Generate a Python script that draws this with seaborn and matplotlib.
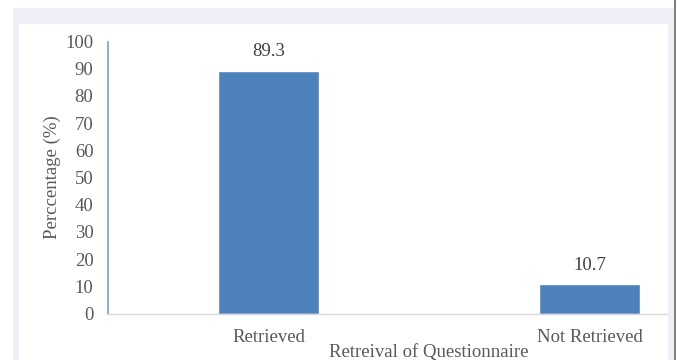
import matplotlib
matplotlib.use("Agg")
import matplotlib.pyplot as plt
from matplotlib.patches import Rectangle
import seaborn as sns
import pandas as pd

categories = ["Retrieved", "Not Retrieved"]
percentages = [89.3, 10.7]
y_ticks = list(range(0, 101, 10))

sns.set_theme(style="white")
plt.rcParams["font.family"] = ["Liberation Serif", "DejaVu Serif"]

W, H = 677, 360
FS = 13.5
fig = plt.figure(figsize=(W / 100, H / 100), dpi=100)
fig.patch.set_facecolor("white")

# page frame: lavender band around a white panel
frame = "#eff0f7"
fig.patches.append(Rectangle((13 / W, 0), (674 - 13) / W, (H - 8) / H,
                             transform=fig.transFigure, facecolor=frame,
                             edgecolor="none", zorder=-3))
fig.patches.append(Rectangle((19 / W, 0), (668 - 19) / W, (H - 24) / H,
                             transform=fig.transFigure, facecolor="white",
                             edgecolor="none", zorder=-2))

ax = fig.add_axes([108 / W, (H - 313.5) / H, (750 - 108) / W, 272 / H])
ax.set_zorder(1)
ax.set_facecolor("none")

df = pd.DataFrame({"Category": categories, "Percentage": percentages})
sns.barplot(data=df, x="Category", y="Percentage", color="#4f81bd",
            saturation=1, width=0.312, ax=ax)

ax.set_xlim(-0.5, 1.5)
ax.set_ylim(0, 100)
ax.set_yticks(y_ticks)
ax.set_yticklabels([str(t) for t in y_ticks], fontsize=FS, color="#595959")
ax.tick_params(axis="x", labelsize=FS, labelcolor="#595959", length=0, pad=11)
ax.tick_params(axis="y", length=0, pad=10.5)

for i, v in enumerate(percentages):
    ax.text(i, v + 4, f"{v}", ha="center", va="bottom", fontsize=FS,
            color="#404040")

ax.set_xlabel("Retreival of Questionnaire", fontsize=FS, color="#595959",
              labelpad=-1)
ax.set_ylabel("Perccentage (%)", fontsize=FS, color="#595959", labelpad=3)

for side in ["top", "right"]:
    ax.spines[side].set_visible(False)
ax.spines["left"].set_color("#7ea1cf")
ax.spines["left"].set_linewidth(1.2)
ax.spines["bottom"].set_color("#d9d9d9")
ax.spines["bottom"].set_linewidth(1.0)

# right edge of the frame covering the overflow of the axes
fig.patches.append(Rectangle((668 / W, 0), (674 - 668) / W, (H - 8) / H,
                             transform=fig.transFigure, facecolor=frame,
                             edgecolor="none", zorder=5))
fig.patches.append(Rectangle((674 / W, 0), 1.5 / W, 1,
                             transform=fig.transFigure, facecolor="#7f7f7f",
                             edgecolor="none", zorder=5))
fig.patches.append(Rectangle((675.5 / W, 0), 2 / W, 1,
                             transform=fig.transFigure, facecolor="white",
                             edgecolor="none", zorder=5))

fig.savefig("out.png", dpi=100)
